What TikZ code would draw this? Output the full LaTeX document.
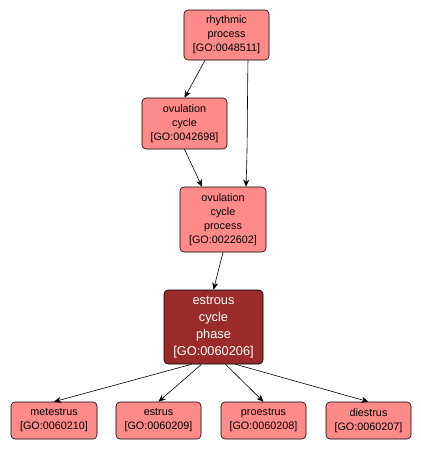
\documentclass[tikz,border=0pt]{standalone}
\usepackage{fontspec}
\setmainfont{Liberation Sans}
\usetikzlibrary{arrows.meta}
\definecolor{termfill}{RGB}{255,138,138}
\definecolor{focusfill}{RGB}{155,43,43}
\begin{document}
\begin{tikzpicture}[x=1pt,y=-1pt,
  term/.style={draw=black, line width=0.6pt, rounded corners=4pt, fill=termfill, align=center, inner sep=0pt,
    font=\fontsize{10.8}{14}\selectfont, text=black},
  focus/.style={term, fill=focusfill, text=white, font=\fontsize{12.8}{17}\selectfont},
  link/.style={draw=black, line width=0.6pt, -{Stealth[length=7pt,width=6pt,inset=2pt]}}]
\useasboundingbox (0,0) rectangle (421,451);
\node[term, minimum width=85pt, minimum height=50pt] (rp) at (226.5,35) {rhythmic\\process\\{[GO:0048511]}};
\node[term, minimum width=85pt, minimum height=51pt] (oc) at (184.5,123.5) {ovulation\\cycle\\{[GO:0042698]}};
\node[term, minimum width=86pt, minimum height=65pt] (ocp) at (223,219.5) {ovulation\\cycle\\process\\{[GO:0022602]}};
\node[focus, minimum width=99pt, minimum height=74pt] (ecp) at (213.5,327) {estrous\\cycle\\phase\\{[GO:0060206]}};
\node[term, minimum width=86pt, minimum height=37pt] (met) at (54,420.5) {metestrus\\{[GO:0060210]}};
\node[term, minimum width=85pt, minimum height=37pt] (est) at (158.5,420.5) {estrus\\{[GO:0060209]}};
\node[term, minimum width=85pt, minimum height=37pt] (pro) at (263.5,420.5) {proestrus\\{[GO:0060208]}};
\node[term, minimum width=85pt, minimum height=37pt] (die) at (368.5,420.5) {diestrus\\{[GO:0060207]}};
\draw[link] ([xshift=-21.5pt]rp.south) -- (oc.north);
\draw[link] ([xshift=21.5pt]rp.south) to[out=-91,in=88] ([xshift=23pt]ocp.north);
\draw[link] (oc.south) -- ([xshift=-21pt]ocp.north);
\draw[link] (ocp.south) -- (ecp.north);
\draw[link] ([xshift=-22pt]ecp.south) -- (met.north);
\draw[link] ([xshift=-12pt]ecp.south) -- (est.north);
\draw[link] ([xshift=12pt]ecp.south) -- (pro.north);
\draw[link] ([xshift=22pt]ecp.south) -- (die.north);
\end{tikzpicture}
\end{document}
